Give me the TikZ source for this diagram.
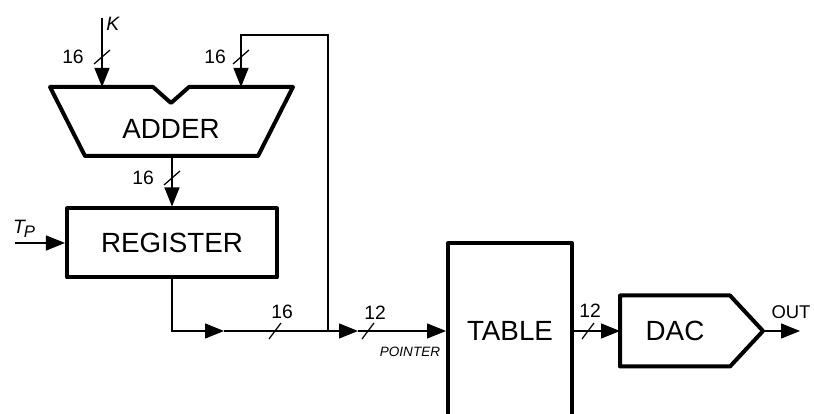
\documentclass[tikz,border=0pt]{standalone}
\usepackage{fontspec}
\setmainfont{Liberation Sans}
\usetikzlibrary{arrows.meta, positioning}

\begin{document}
\begin{tikzpicture}[x=0.2mm, y=-0.2mm, >={Triangle[length=3.8mm, width=3mm]}]
    \tikzstyle{block} = [line width=0.8mm, line join=round, font=\fontsize{15.8}{18}\selectfont]
    \tikzstyle{wire} = [line width=0.25mm]
    \tikzstyle{bus} = [font=\fontsize{11}{12}\selectfont, inner sep=0pt]
    \useasboundingbox (0,0) rectangle (814,414);
    % blocks
    \node[block] (adder) at (171,129) {ADDER};
    \draw[block] (50,87) -- (153,87) -- (171,103) -- (189,87) -- (293,87) -- (258,156) -- (85,156) -- cycle;
    \node[block, draw, minimum width=42mm, minimum height=13.8mm] (reg) at (172,243) {REGISTER};
    \node[block, minimum width=24.8mm] (table) at (510,331) {TABLE};
    \draw[block] (448,430) |- (572,243) -- (572,430);
    \node[block, minimum width=21.2mm, minimum height=13.4mm] (dac) at (675,331) {DAC};
    \draw[block] (dac.north west) -- (dac.north east) -- (763,331) coordinate (dacout) -- (dac.south east) -- (dac.south west) -- cycle;
    % inputs
    \coordinate (kin) at (102,18);
    \coordinate (adda) at (102,87);
    \coordinate (addb) at (241,87);
    \coordinate (fb) at (241,35);
    \coordinate (addout) at (172,156);
    \coordinate (tp) at (15,243);
    \coordinate (a1) at (224,331);
    \coordinate (jn) at (328,331);
    \coordinate (a2) at (358,331);
    \coordinate (out) at (800,331);
    \draw[wire, ->] (kin) -- (adda);
    \draw[wire, ->] (jn) |- (fb) -- (addb);
    \draw[wire, ->] (addout) -- (reg.north);
    \draw[wire, ->] (tp) -- (reg.west);
    \draw[wire, ->] (reg.south) |- (a1);
    \draw[wire] (a1) -- (jn);
    \draw[wire, ->] (jn) -- (a2);
    \draw[wire, ->] (a2) -- (table.west);
    \draw[wire, ->] (table.east) -- (dac.west);
    \draw[wire, ->] (dacout) -- (out);
    % bus widths
    \foreach \x/\y in {102/57, 241/57, 172/178}
        \draw[wire] (\x,\y) ++(-8,7) -- ++(16,-14);
    \foreach \x in {275, 368, 588}
        \draw[wire] (\x,331) ++(-6,8) -- ++(12,-16);
    \node[bus] (l16k) at (73,57) {16};
    \node[bus] (l16fb) at (215,57) {16};
    \node[bus] (l16add) at (143,178) {16};
    \node[bus] (l16reg) at (282,312) {16};
    \node[bus] (l12ptr) at (375,313) {12};
    \node[bus] (l12tab) at (590,311) {12};
    % labels
    \node[bus, anchor=west, font=\fontsize{11}{12}\selectfont\itshape] (klab) at (106,24) {K};
    \node[bus, font=\fontsize{11}{12}\selectfont\itshape] (tplab) at (24,229) {T\kern-0.05em\raisebox{-0.4ex}{\fontsize{9.5}{10}\selectfont P}};
    \node[bus, font=\fontsize{7.7}{9}\selectfont\itshape] (ptr) at (410,352) {POINTER};
    \node[bus, font=\fontsize{10.5}{12}\selectfont] (outlab) at (791,312) {OUT};
\end{tikzpicture}
\end{document}
